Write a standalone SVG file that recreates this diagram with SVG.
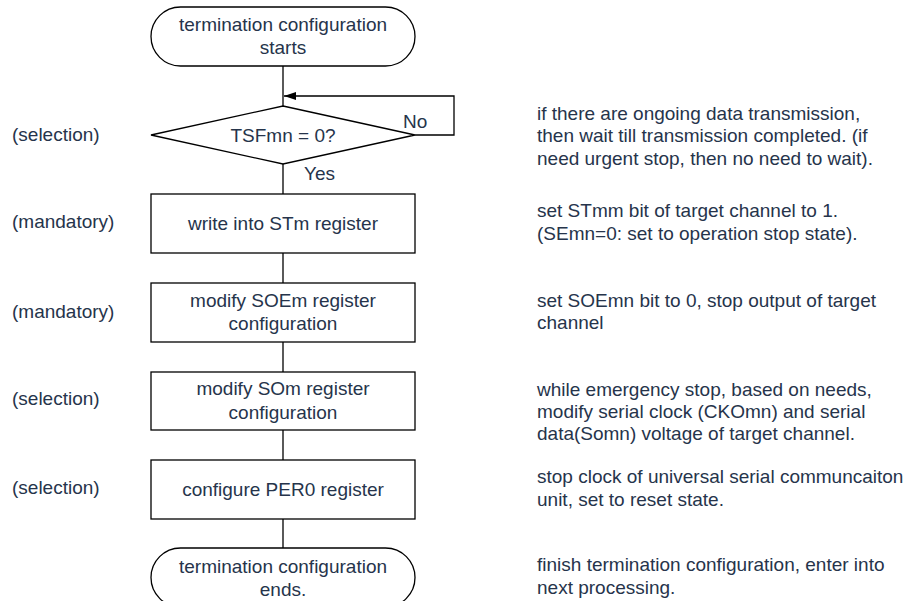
<svg xmlns="http://www.w3.org/2000/svg" width="912" height="601" viewBox="0 0 912 601">
<style>
text{font-family:"Liberation Sans",Arial,sans-serif;font-size:19px;fill:#26344b}
.c{text-anchor:middle}
.s{fill:#fff;stroke:#000;stroke-width:1.3}
.l{fill:none;stroke:#000;stroke-width:1.3}
</style>
<defs>
<marker id="ah" viewBox="0 0 12 8" refX="12" refY="4" markerWidth="12" markerHeight="8" markerUnits="userSpaceOnUse" orient="auto">
<path d="M0,0 L12,4 L0,8 Z" fill="#000"/>
</marker>
</defs>
<rect width="912" height="601" fill="#fff"/>
<g id="connectors">
<line class="l" x1="283" y1="66" x2="283" y2="106"/>
<path class="l" d="M415,135 H454 V96 H284" marker-end="url(#ah)"/>
<line class="l" x1="283" y1="164" x2="283" y2="194"/>
<line class="l" x1="283" y1="253" x2="283" y2="283"/>
<line class="l" x1="283" y1="342" x2="283" y2="372"/>
<line class="l" x1="283" y1="430" x2="283" y2="460"/>
<line class="l" x1="283" y1="519" x2="283" y2="548"/>
<text x="403" y="127.5">No</text>
<text x="304" y="180">Yes</text>
</g>
<g id="start">
<rect class="s" x="151" y="7" width="264" height="59" rx="29.5"/>
<text class="c" x="283" y="30.5">termination configuration</text>
<text class="c" x="283" y="53.5">starts</text>
</g>
<g id="decision">
<polygon class="s" points="283,106 415,135 283,164 151,135"/>
<text class="c" x="283" y="141.5">TSFmn = 0?</text>
</g>
<g id="box1">
<rect class="s" x="151" y="194" width="264" height="59"/>
<text class="c" x="283" y="229.5">write into STm register</text>
</g>
<g id="box2">
<rect class="s" x="151" y="283" width="264" height="59"/>
<text class="c" x="283" y="306.5">modify SOEm register</text>
<text class="c" x="283" y="329.5">configuration</text>
</g>
<g id="box3">
<rect class="s" x="151" y="372" width="264" height="58"/>
<text class="c" x="283" y="394.5">modify SOm register</text>
<text class="c" x="283" y="418.5">configuration</text>
</g>
<g id="box4">
<rect class="s" x="151" y="460" width="264" height="59"/>
<text class="c" x="283" y="495.5">configure PER0 register</text>
</g>
<g id="end">
<rect class="s" x="151" y="548" width="264" height="59" rx="29.5"/>
<text class="c" x="283" y="572.5">termination configuration</text>
<text class="c" x="283" y="595.5">ends.</text>
</g>
<g id="left-labels">
<text x="12" y="141">(selection)</text>
<text x="12" y="228">(mandatory)</text>
<text x="12" y="317.5">(mandatory)</text>
<text x="12" y="405">(selection)</text>
<text x="12" y="494">(selection)</text>
</g>
<g id="notes">
<text x="537" y="119.5">if there are ongoing data transmission,</text>
<text x="537" y="142">then wait till transmission completed. (if</text>
<text x="537" y="164.5">need urgent stop, then no need to wait).</text>
<text x="537" y="217">set STmm bit of target channel to 1.</text>
<text x="537" y="240">(SEmn=0: set to operation stop state).</text>
<text x="537" y="306.5">set SOEmn bit to 0, stop output of target</text>
<text x="537" y="329">channel</text>
<text x="537" y="395.5">while emergency stop, based on needs,</text>
<text x="537" y="417.5">modify serial clock (CKOmn) and serial</text>
<text x="537" y="439.5">data(Somn) voltage of target channel.</text>
<text x="537" y="482.5">stop clock of universal serial communcaiton</text>
<text x="537" y="505.5">unit, set to reset state.</text>
<text x="537" y="571">finish termination configuration, enter into</text>
<text x="537" y="594">next processing.</text>
</g>
</svg>
